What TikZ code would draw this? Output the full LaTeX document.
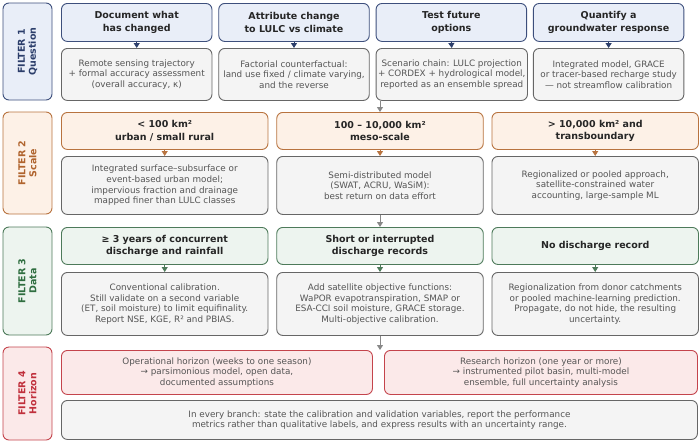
\documentclass[tikz,border=0pt]{standalone}
\usepackage{fontspec}
\setmainfont{DejaVu Sans}
\usetikzlibrary{arrows.meta}
\definecolor{qB}{HTML}{3D4F7C}\definecolor{qF}{HTML}{E9EEF8}\definecolor{qT}{HTML}{2C3E6B}
\definecolor{sB}{HTML}{B8733F}\definecolor{sF}{HTML}{FDF1E7}\definecolor{sT}{HTML}{B0642E}
\definecolor{dB}{HTML}{4D7A5A}\definecolor{dF}{HTML}{EDF4EF}\definecolor{dT}{HTML}{2F6E40}
\definecolor{hB}{HTML}{C4444C}\definecolor{hF}{HTML}{FBE9E9}\definecolor{hT}{HTML}{C0303C}
\definecolor{gB}{HTML}{666666}\definecolor{gF}{HTML}{F4F4F4}\definecolor{gT}{HTML}{555555}
\definecolor{aG}{HTML}{888888}
\tikzset{
  base/.style={draw, rounded corners=6pt, line width=0.9pt, align=center, inner sep=2pt, anchor=north west},
  hdr/.style={base, font=\fontsize{9.5}{12.5}\selectfont\bfseries, text=black!85},
  det/.style={base, draw=gB, fill=gF, text=gT, font=\fontsize{8.8}{10.6}\selectfont},
  flt/.style={draw, rounded corners=6pt, line width=0.9pt, align=center, rotate=90, font=\fontsize{9.5}{11}\selectfont\bfseries, minimum height=49pt, inner sep=0pt},
  tip/.style={-{Triangle[width=6pt,length=5pt]}, line width=1pt},
  garr/.style={-{Triangle[width=6pt,length=5pt]}, line width=1pt, draw=aG},
}
\begin{document}
\begin{tikzpicture}[x=1pt,y=1pt]
\useasboundingbox (0,0) rectangle (700,-442);
% filter labels
\node[flt, draw=qB, fill=qF, text=qT, minimum width=97pt] (f1) at (27.5,-51.5) {FILTER 1\\Question};
\node[flt, draw=sB, fill=sF, text=sT, minimum width=102pt] (f2) at (27.5,-163) {FILTER 2\\Scale};
\node[flt, draw=dB, fill=dF, text=dT, minimum width=108pt] (f3) at (27.5,-281) {FILTER 3\\Data};
\node[flt, draw=hB, fill=hF, text=hT, minimum width=93pt] (f4) at (27.5,-393.5) {FILTER 4\\Horizon};
% row 1
\tikzset{q/.style={hdr, draw=qB, fill=qF, minimum width=150.5pt, minimum height=38pt},
         qd/.style={det, minimum width=150.5pt, minimum height=52pt}}
\node[q] (h11) at (61,-3) {Document what\\has changed};
\node[q] (h12) at (218.3,-3) {Attribute change\\to LULC vs climate};
\node[q] (h13) at (375.6,-3) {Test future\\options};
\node[q] (h14) at (532.9,-3) {Quantify a\\groundwater response};
\node[qd] (d11) at (61,-48) {Remote sensing trajectory\\+ formal accuracy assessment\\(overall accuracy, κ)};
\node[qd] (d12) at (218.3,-48) {Factorial counterfactual:\\land use fixed / climate varying,\\and the reverse};
\node[qd] (d13) at (375.6,-48) {Scenario chain: LULC projection\\+ CORDEX + hydrological model,\\reported as an ensemble spread};
\node[qd] (d14) at (532.9,-48) {Integrated model, GRACE\\or tracer-based recharge study\\— not streamflow calibration};
\foreach \i in {1,...,4} \draw[tip, draw=qT] (h1\i.south) -- (d1\i.north);
% row 2
\tikzset{s/.style={hdr, draw=sB, fill=sF, minimum width=206.5pt, minimum height=37pt},
         sd/.style={det, minimum width=206.5pt, minimum height=58pt}}
\node[s] (h21) at (61,-112) {< 100 km²\\urban / small rural};
\node[s] (h22) at (276.3,-112) {100 – 10,000 km²\\meso-scale};
\node[s] (h23) at (491.5,-112) {> 10,000 km² and\\transboundary};
\node[sd] (d21) at (61,-156) {Integrated surface–subsurface or\\event-based urban model;\\impervious fraction and drainage\\mapped finer than LULC classes};
\node[sd] (d22) at (276.3,-156) {Semi-distributed model\\(SWAT, ACRU, WaSiM):\\best return on data effort};
\node[sd] (d23) at (491.5,-156) {Regionalized or pooled approach,\\satellite-constrained water\\accounting, large-sample ML};
\foreach \i in {1,...,3} \draw[tip, draw=sB] (h2\i.south) -- (d2\i.north);
% row 3
\tikzset{d/.style={hdr, draw=dB, fill=dF, minimum width=206.5pt, minimum height=37pt},
         dd/.style={det, minimum width=206.5pt, minimum height=63pt}}
\node[d] (h31) at (61,-227) {≥ 3 years of concurrent\\discharge and rainfall};
\node[d] (h32) at (276.3,-227) {Short or interrupted\\discharge records};
\node[d] (h33) at (491.5,-227) {No discharge record};
\node[dd] (d31) at (61,-272) {Conventional calibration.\\Still validate on a second variable\\(ET, soil moisture) to limit equifinality.\\Report NSE, KGE, R² and PBIAS.};
\node[dd] (d32) at (276.3,-272) {Add satellite objective functions:\\WaPOR evapotranspiration, SMAP or\\ESA-CCI soil moisture, GRACE storage.\\Multi-objective calibration.};
\node[dd] (d33) at (491.5,-272) {Regionalization from donor catchments\\or pooled machine-learning prediction.\\Propagate, do not hide, the resulting\\uncertainty.};
\foreach \i in {1,...,3} \draw[tip, draw=dB] (h3\i.south) -- (d3\i.north);
% row 4
\node[det, draw=hB, fill=hF, minimum width=311pt, minimum height=44pt] (h41) at (61,-350) {Operational horizon (weeks to one season)\\→ parsimonious model, open data,\\documented assumptions};
\node[det, draw=hB, fill=hF, minimum width=313pt, minimum height=44pt] (h42) at (384,-350) {Research horizon (one year or more)\\→ instrumented pilot basin, multi-model\\ensemble, full uncertainty analysis};
\node[det, minimum width=636pt, minimum height=39pt] (fin) at (61,-400) {In every branch: state the calibration and validation variables, report the performance\\metrics rather than qualitative labels, and express results with an uncertainty range.};
% flow arrows
\draw[garr] (h22.north |- d13.south) -- (h22.north);
\draw[garr] (d22.south) -- (h32.north);
\draw[garr] (d32.south) -- (d32.south |- h41.north);
\end{tikzpicture}
\end{document}
